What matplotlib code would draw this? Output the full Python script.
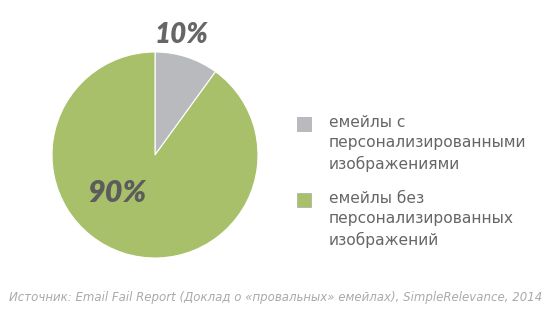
import matplotlib
matplotlib.use("Agg")
import matplotlib.pyplot as plt

# data
labels = ["емейлы с\nперсонализированными\nизображениями",
          "емейлы без\nперсонализированных\nизображений"]
values = [10, 90]
pct_labels = ["10%", "90%"]
colors = ["#b9babd", "#a9c06b"]
source = "Источник: Email Fail Report (Доклад о «провальных» емейлах), SimpleRelevance, 2014"

W, H = 550, 325
fig = plt.figure(figsize=(W / 100, H / 100), dpi=100)
fig.patch.set_facecolor("white")

# pie axes, placed in pixel units (center ~ (155,155), r ~ 103)
cx, cy, r = 155, 155, 103
ax = fig.add_axes([(cx - r) / W, (H - cy - r) / H, 2 * r / W, 2 * r / H])
ax.pie(values, colors=colors, startangle=90, counterclock=False,
       radius=1, wedgeprops=dict(edgecolor="white", linewidth=0.8))
ax.set_xlim(-1, 1)
ax.set_ylim(-1, 1)
ax.set_aspect("auto")
ax.axis("off")

# percentage labels
fig.text(182 / W, 1 - 35 / H, pct_labels[0], ha="center", va="center",
         fontsize=20, fontweight="heavy", style="italic", color="#666666",
         family=["Lato", "DejaVu Sans"])
fig.text(117 / W, 1 - 193 / H, pct_labels[1], ha="center", va="center",
         fontsize=22, fontweight="heavy", style="italic", color="#5c5c5c",
         family=["Lato", "DejaVu Sans"])

# legend
sq = 14
for i, (lab, col) in enumerate(zip(labels, colors)):
    ytop = 117 + i * 76
    fig.patches.append(plt.Rectangle((297 / W, 1 - (ytop + sq) / H), sq / W, sq / H,
                                     transform=fig.transFigure, facecolor=col,
                                     edgecolor="#aaaaaa", linewidth=0.5))
    fig.text(329 / W, 1 - (ytop - 2) / H, lab, ha="left", va="top",
             fontsize=11.2, color="#666666", linespacing=1.42,
             family="DejaVu Sans")

# source
fig.text(276 / W, 1 - 298 / H, source, ha="center", va="center",
         fontsize=8.45, style="italic", color="#aaaaaa", family="DejaVu Sans")

fig.savefig("out.png", dpi=100, facecolor="white")
